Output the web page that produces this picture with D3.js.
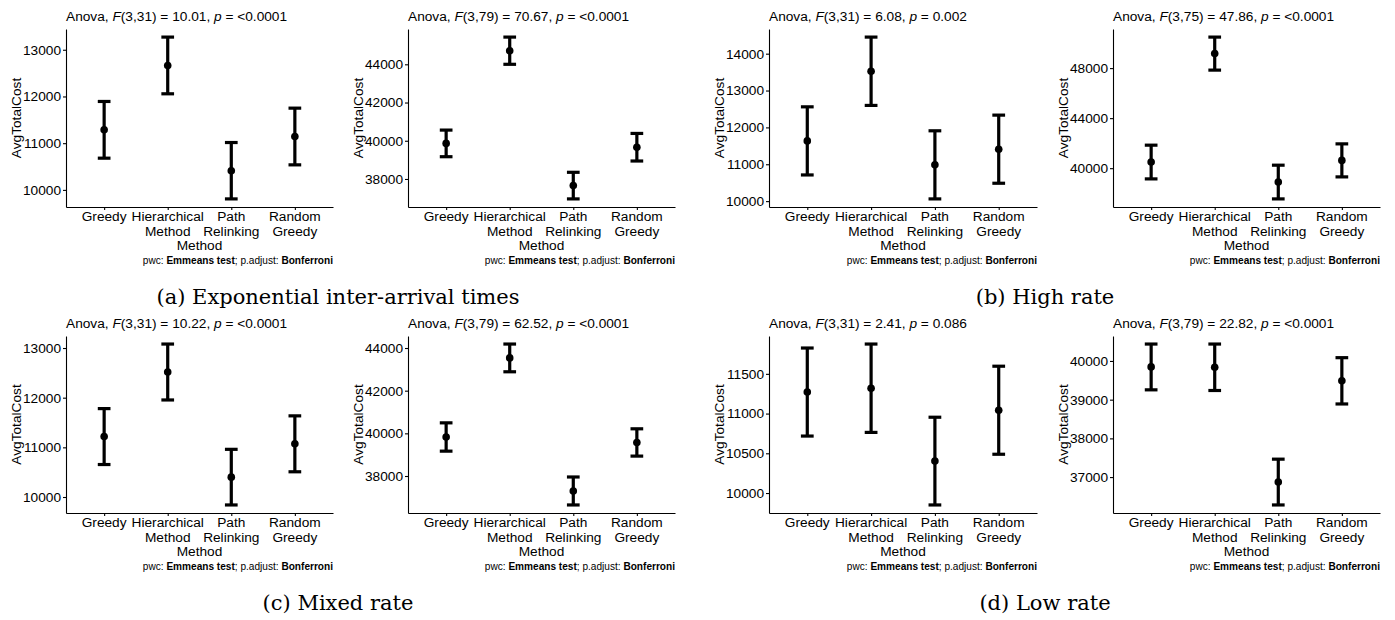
<!DOCTYPE html>
<html>
<head>
<meta charset="utf-8">
<script src="https://cdn.jsdelivr.net/npm/d3@7"></script>
<style>
  html, body { margin: 0; padding: 0; background: #fff; }
  svg text { fill: #000; }
</style>
</head>
<body>
<div id="chart"></div>
<script>
// categories on the x axis (each entry is the wrapped label lines)
const methodKeys = ["Greedy", "Hierarchical Method", "Path Relinking", "Random Greedy"];
const methodLines = [["Greedy"], ["Hierarchical", "Method"], ["Path", "Relinking"], ["Random", "Greedy"]];

// ANOVA results shown in each panel title (row-major order)
const anovaDf = ["3,31", "3,79", "3,31", "3,75", "3,31", "3,79", "3,31", "3,79"];
const anovaF = ["10.01", "70.67", "6.08", "47.86", "10.22", "62.52", "2.41", "22.82"];
const anovaP = ["<0.0001", "<0.0001", "0.002", "<0.0001", "<0.0001", "<0.0001", "0.086", "<0.0001"];

// mean AvgTotalCost per method, with lower / upper bar ends
const means = [
  [11286, 12664, 10410, 11143],
  [39862, 44712, 37653, 39662],
  [11634, 13523, 10984, 11409],
  [40492, 49160, 38892, 40624],
  [11217, 12517, 10400, 11071],
  [39828, 43536, 37298, 39573],
  [11271, 11319, 10402, 11042],
  [39846, 39837, 36872, 39487]
];
const lowers = [
  [10679, 12057, 9807, 10536],
  [39165, 44000, 36957, 38940],
  [10710, 12596, 10060, 10485],
  [39144, 47840, 37544, 39304],
  [10654, 11954, 9840, 10508],
  [39165, 42886, 36643, 38933],
  [10717, 10763, 9850, 10488],
  [39254, 39237, 36280, 38889]
];
const uppers = [
  [11893, 13271, 11014, 11750],
  [40558, 45424, 38349, 40383],
  [12558, 14450, 11908, 12333],
  [41840, 50480, 40240, 41944],
  [11780, 13080, 10960, 11634],
  [40492, 44186, 37954, 40213],
  [11825, 11875, 10954, 11596],
  [40437, 40437, 37463, 40085]
];

// y tick values per panel
const yTicks = [
  [10000, 11000, 12000, 13000],
  [38000, 40000, 42000, 44000],
  [10000, 11000, 12000, 13000, 14000],
  [40000, 44000, 48000],
  [10000, 11000, 12000, 13000],
  [38000, 40000, 42000, 44000],
  [10000, 10500, 11000, 11500],
  [37000, 38000, 39000, 40000]
];

const subCaptions = ["(a) Exponential inter-arrival times", "(b) High rate", "(c) Mixed rate", "(d) Low rate"];

const W = 1395, H = 620;
const sans = "'Liberation Sans', Arial, sans-serif";
const fs = 13.7;

// plot areas: columns and rows
const colLeft = [66, 408, 769, 1113];
const colRight = [333, 675, 1037, 1380];
const rowTop = [29, 336];
const rowBottom = [207, 513];

const svg = d3.select("#chart")
  .append("svg")
  .attr("width", W)
  .attr("height", H)
  .attr("font-family", sans);

function drawPanel(i) {
  const col = i % 4;
  const row = Math.floor(i / 4);
  const left = colLeft[col], right = colRight[col];
  const top = rowTop[row], bottom = rowBottom[row];

  // ggplot-style 5% expansion of the data range
  const lo = d3.min(lowers[i]);
  const hi = d3.max(uppers[i]);
  const pad = (hi - lo) * 0.05;

  const y = d3.scaleLinear().domain([lo - pad, hi + pad]).range([bottom, top]);
  const x = d3.scalePoint().domain(methodKeys).range([left, right]).padding(0.6);

  const g = svg.append("g");

  // y axis
  const yAxis = g.append("g")
    .attr("transform", `translate(${left},0)`)
    .call(d3.axisLeft(y).tickValues(yTicks[i]).tickFormat(d3.format("d")).tickSize(3).tickPadding(2).tickSizeOuter(0));
  yAxis.selectAll("text").attr("font-size", fs).attr("font-family", sans).attr("fill", "#000");

  // x axis
  const xAxis = g.append("g")
    .attr("transform", `translate(0,${bottom})`)
    .call(d3.axisBottom(x).tickFormat("").tickSize(3).tickSizeOuter(0));

  [yAxis, xAxis].forEach(a => {
    a.select(".domain").attr("stroke", "#000").attr("stroke-width", 1.1);
    a.selectAll(".tick line").attr("stroke", "#000").attr("stroke-width", 1.1);
  });

  // multi-line x labels
  methodKeys.forEach((k, j) => {
    const t = g.append("text")
      .attr("x", x(k))
      .attr("text-anchor", "middle")
      .attr("font-size", fs);
    methodLines[j].forEach((line, li) => {
      t.append("tspan")
        .attr("x", x(k))
        .attr("y", bottom + 13.5 + li * 15)
        .text(line);
    });
  });

  // axis titles
  g.append("text")
    .attr("x", (left + right) / 2)
    .attr("y", bottom + 42.5)
    .attr("text-anchor", "middle")
    .attr("font-size", fs)
    .text("Method");

  g.append("text")
    .attr("transform", `translate(${left - 45},${(top + bottom) / 2}) rotate(-90)`)
    .attr("text-anchor", "middle")
    .attr("font-size", fs)
    .text("AvgTotalCost");

  // title
  const title = g.append("text")
    .attr("x", left)
    .attr("y", top - 8.5)
    .attr("font-size", fs);
  title.append("tspan").text("Anova, ");
  title.append("tspan").attr("font-style", "italic").text("F");
  title.append("tspan").text(`(${anovaDf[i]}) = ${anovaF[i]}, `);
  title.append("tspan").attr("font-style", "italic").text("p");
  title.append("tspan").text(` = ${anovaP[i]}`);

  // caption
  const cap = g.append("text")
    .attr("x", right)
    .attr("y", bottom + 56.5)
    .attr("text-anchor", "end")
    .attr("font-size", 10.1);
  cap.append("tspan").text("pwc: ");
  cap.append("tspan").attr("font-weight", "bold").text("Emmeans test");
  cap.append("tspan").text("; p.adjust: ");
  cap.append("tspan").attr("font-weight", "bold").text("Bonferroni");

  // error bars
  const capW = x.step() * 0.2;
  const bars = g.selectAll("g.bar")
    .data(methodKeys.map((k, j) => ({ k, m: means[i][j], lo: lowers[i][j], hi: uppers[i][j] })))
    .enter()
    .append("g")
    .attr("class", "bar");

  bars.append("line")
    .attr("x1", d => x(d.k)).attr("x2", d => x(d.k))
    .attr("y1", d => y(d.lo)).attr("y2", d => y(d.hi))
    .attr("stroke", "#000").attr("stroke-width", 3.2);
  bars.append("line")
    .attr("x1", d => x(d.k) - capW / 2).attr("x2", d => x(d.k) + capW / 2)
    .attr("y1", d => y(d.hi)).attr("y2", d => y(d.hi))
    .attr("stroke", "#000").attr("stroke-width", 3.2);
  bars.append("line")
    .attr("x1", d => x(d.k) - capW / 2).attr("x2", d => x(d.k) + capW / 2)
    .attr("y1", d => y(d.lo)).attr("y2", d => y(d.lo))
    .attr("stroke", "#000").attr("stroke-width", 3.2);
  bars.append("circle")
    .attr("cx", d => x(d.k))
    .attr("cy", d => y(d.m))
    .attr("r", 3.8)
    .attr("fill", "#000");
}

for (let i = 0; i < 8; i++) drawPanel(i);

// sub-figure captions
const capX = [338, 1045, 338, 1045];
const capY = [304, 304, 610, 610];
subCaptions.forEach((s, k) => {
  svg.append("text")
    .attr("x", capX[k])
    .attr("y", capY[k])
    .attr("text-anchor", "middle")
    .attr("font-family", "'DejaVu Serif', serif")
    .attr("font-size", 21)
    .text(s);
});
</script>
</body>
</html>
